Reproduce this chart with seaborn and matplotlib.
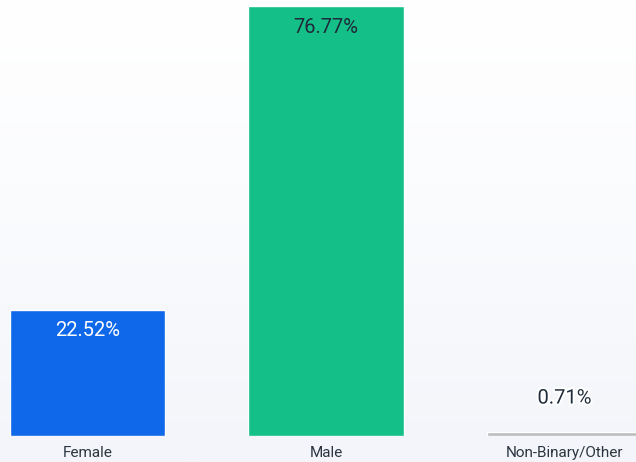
import numpy as np
import pandas as pd
import matplotlib
matplotlib.use("Agg")
import matplotlib.pyplot as plt
import matplotlib.patheffects as pe
from matplotlib.colors import LinearSegmentedColormap
import seaborn as sns

categories = ["Female", "Male", "Non-Binary/Other"]
shares = [22.52, 76.77, 0.71]
bar_colors = ["#0f67ea", "#15bf88", "#bcbcbc"]
label_colors = ["#ffffff", "#1e2b3a", "#1e2b3a"]

sns.set_theme(style="white")
plt.rcParams["font.family"] = ["Roboto", "DejaVu Sans"]

df = pd.DataFrame({"category": categories, "share": shares})

fig = plt.figure(figsize=(6.36, 4.62), dpi=100)

# soft vertical gradient behind the chart
bg = fig.add_axes([0, 0, 1, 1], zorder=-1)
grad = np.linspace(0, 1, 256).reshape(-1, 1)
cmap = LinearSegmentedColormap.from_list("bg", [(0, "#f3f5fa"), (0.6, "#fbfcfe"), (1, "#ffffff")])
bg.imshow(grad, aspect="auto", cmap=cmap, origin="lower", extent=[0, 1, 0, 1])
bg.set_axis_off()

ax = fig.add_axes([0, 26 / 462, 1, 1 - 26 / 462])
ax.patch.set_alpha(0)
sns.barplot(data=df, x="category", y="share", hue="category", palette=bar_colors,
            width=0.65, legend=False, ax=ax, saturation=1)

ax.set_xlim(-87.5 / 238.5, (636 - 87.5) / 238.5)
ax.set_ylim(0, 76.77 * 436 / 430)

for i, (v, c) in enumerate(zip(shares, label_colors)):
    if v > 5:
        ax.annotate(f"{v:.2f}%", xy=(i, v), xytext=(0, -21), textcoords="offset pixels",
                    ha="center", va="center", fontsize=14.5, color=c)
    else:
        ax.annotate(f"{v:.2f}%", xy=(i, v), xytext=(0, 34), textcoords="offset pixels",
                    ha="center", va="center", fontsize=14.5, color=c,
                    path_effects=[pe.withStroke(linewidth=3, foreground="white")])

ax.set_xlabel("")
ax.set_ylabel("")
ax.set_yticks([])
ax.tick_params(axis="x", length=0, pad=7.5, labelsize=11, labelcolor="#2b3440")
for s in ax.spines.values():
    s.set_visible(False)

fig.savefig("out.png", dpi=100)
